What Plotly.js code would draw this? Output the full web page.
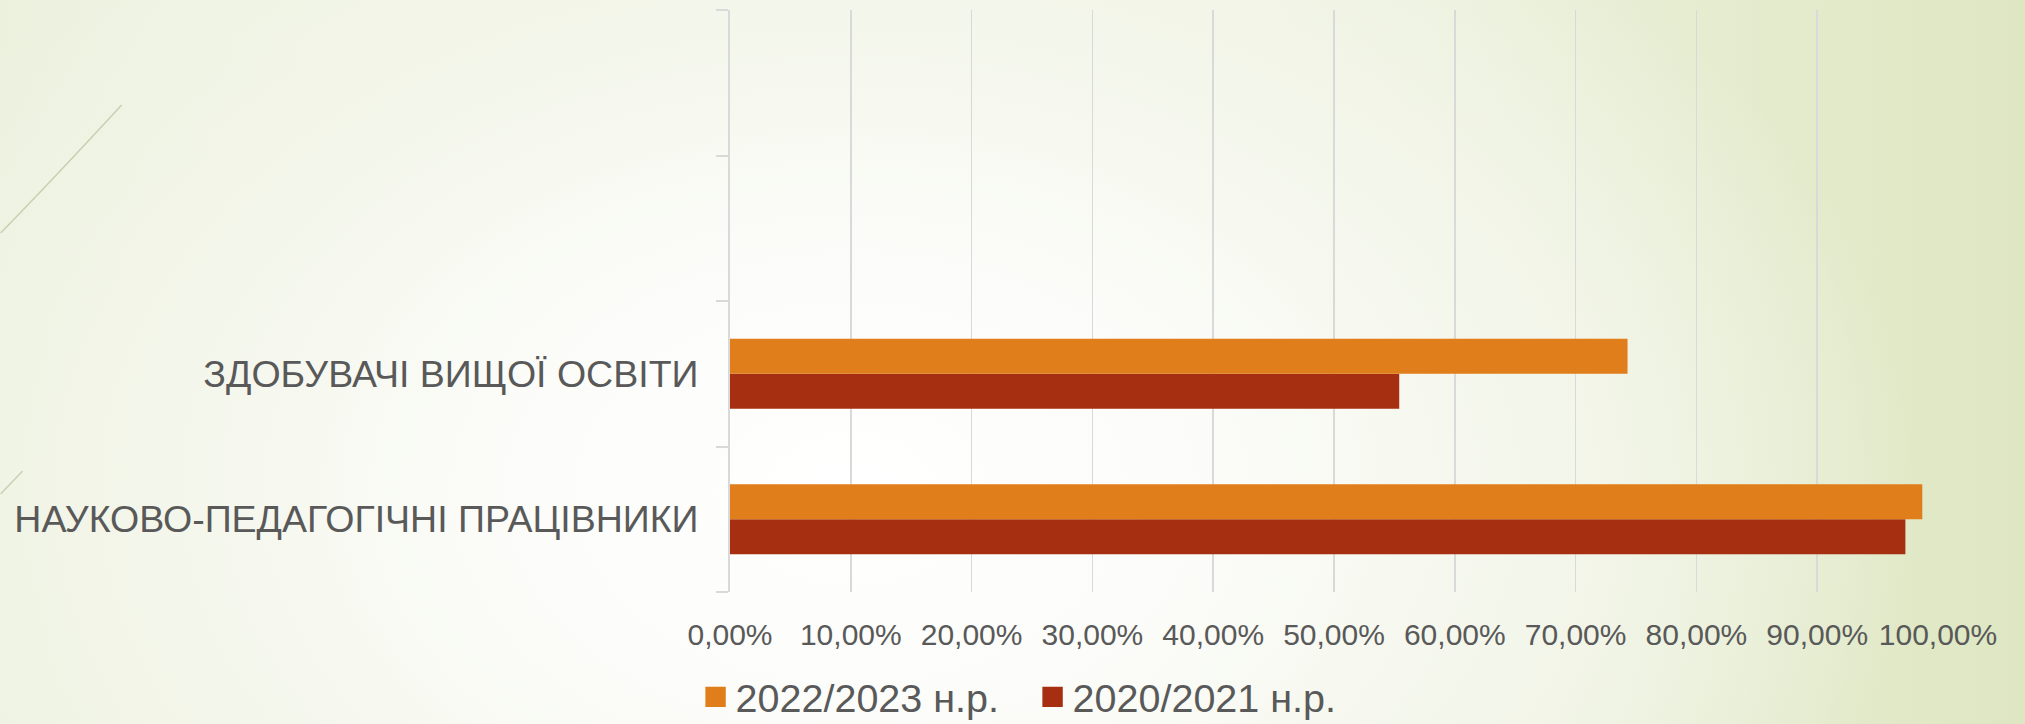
<!DOCTYPE html>
<html>
<head>
<meta charset="utf-8">
<script src="https://cdn.plot.ly/plotly-3.0.1.min.js"></script>
<style>
  html, body { margin: 0; padding: 0; width: 2025px; height: 724px; overflow: hidden; }
  body {
    background:
      radial-gradient(ellipse 62% 120% at 42% 68%, #ffffff 0%, #fbfcf8 30%, #f2f5e8 60%, rgba(230,237,210,0) 85%),
      linear-gradient(90deg, #ecf1de 0%, #f4f7ec 35%, #eef2e0 65%, #dee7c2 100%);
  }
  #chart { width: 2025px; height: 724px; }
</style>
</head>
<body>
<div id="chart"></div>
<script>
// Data
const categories = ["НАУКОВО-ПЕДАГОГІЧНІ ПРАЦІВНИКИ", "ЗДОБУВАЧІ ВИЩОЇ ОСВІТИ", " ", "  "];
const seriesNames = ["2020/2021 н.р.", "2022/2023 н.р."];
const values2020 = [0.973, 0.554, null, null];
const values2022 = [0.987, 0.743, null, null];
const xTickValues = [0, 0.1, 0.2, 0.3, 0.4, 0.5, 0.6, 0.7, 0.8, 0.9, 1.0];

const colors = { s2020: "#a52f10", s2022: "#df7e1a" };
const textColor = "#595959";
const gridColor = "#d9d9d9";

const traces = [
  {
    type: "bar", orientation: "h", name: seriesNames[0],
    y: categories, x: values2020,
    marker: { color: colors.s2020 }, hoverinfo: "skip"
  },
  {
    type: "bar", orientation: "h", name: seriesNames[1],
    y: categories, x: values2022,
    marker: { color: colors.s2022 }, hoverinfo: "skip"
  }
];

const layout = {
  width: 2025, height: 724,
  paper_bgcolor: "rgba(0,0,0,0)",
  plot_bgcolor: "rgba(0,0,0,0)",
  separators: ", ",
  margin: { l: 730, r: 87, t: 10, b: 132, autoexpand: false },
  barmode: "group",
  bargap: 0.52,
  bargroupgap: 0,
  font: { family: "Liberation Sans, Arial, sans-serif", color: textColor },
  xaxis: {
    range: [0, 1],
    tickvals: xTickValues,
    tickformat: ".2%",
    showgrid: true, gridcolor: gridColor, gridwidth: 1.5,
    zeroline: false, showline: false,
    ticks: "",
    tickfont: { family: "Liberation Sans, Arial, sans-serif", size: 30, color: textColor },
    ticklabelstandoff: 22,
    fixedrange: true
  },
  yaxis: {
    type: "category",
    categoryorder: "array", categoryarray: categories,
    range: [-0.5, 3.5],
    showline: true, linecolor: gridColor, linewidth: 2,
    showgrid: false, zeroline: false,
    ticks: "outside", tickson: "boundaries", ticklen: 12, tickcolor: gridColor, tickwidth: 2,
    tickfont: { family: "Liberation Sans, Arial, sans-serif", size: 37.5, color: textColor },
    ticklabelstandoff: 22,
    fixedrange: true
  },
  showlegend: true,
  legend: {
    orientation: "h",
    traceorder: "reversed",
    x: -0.0285, xanchor: "left",
    y: -0.125, yanchor: "top",
    font: { family: "Liberation Sans, Arial, sans-serif", size: 39.5, color: textColor },
    itemwidth: 30,
    entrywidth: 292,
    bgcolor: "rgba(0,0,0,0)"
  },
  shapes: [
    { type: "path", xref: "paper", yref: "paper",
      path: "M -0.6038,0.6168 Q -0.56,0.71 -0.5036,0.8368",
      line: { color: "#c9d0b2", width: 1.5 } },
    { type: "path", xref: "paper", yref: "paper",
      path: "M -0.6038,0.1684 L -0.5856,0.2079",
      line: { color: "#c9d0b2", width: 1.5 } }
  ]
};

Plotly.newPlot("chart", traces, layout, { displayModeBar: false, staticPlot: true }).then(function (gd) {
  // enlarge legend swatches to match the reference's square keys
  gd.querySelectorAll(".legend .legendpoints path").forEach(function (p) {
    const t = p.getAttribute("transform") || "";
    p.setAttribute("transform", t + " scale(1.7)");
  });
});
</script>
</body>
</html>
